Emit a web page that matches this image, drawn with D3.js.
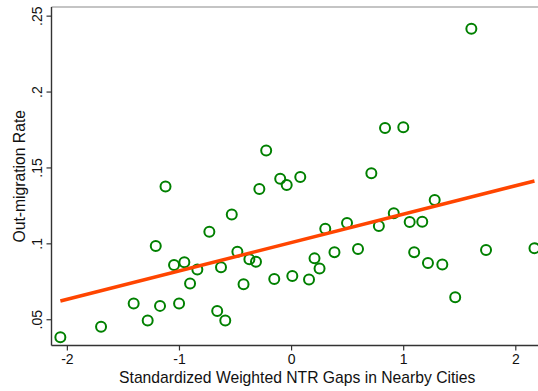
<!DOCTYPE html>
<html><head><meta charset="utf-8">
<script src="https://cdn.jsdelivr.net/npm/d3@7"></script>
<style>
html,body{margin:0;padding:0;background:#fff;}
svg{display:block;font-family:"Liberation Sans",Arial,sans-serif;}
</style></head>
<body>
<svg id="chart" width="538" height="391"></svg>
<script>
// Data
const gapValues = [-2.058,-1.695,-1.404,-1.279,-1.169,-0.999,-1.207,-1.120,-1.044,-0.952,
  -0.901,-0.836,-0.729,-0.659,-0.625,-0.587,-0.529,-0.479,-0.424,-0.372,
  -0.313,-0.283,-0.222,-0.150,-0.097,-0.039,0.011,0.082,0.160,0.209,
  0.254,0.305,0.387,0.499,0.597,0.716,0.783,0.838,0.916,1.001,
  1.058,1.098,1.170,1.221,1.281,1.349,1.464,1.608,1.739,2.171];
const outMigration = [0.0381,0.0451,0.0604,0.0492,0.0588,0.0604,0.0982,0.1374,0.0858,0.0875,
  0.0736,0.0828,0.1077,0.0555,0.0843,0.0492,0.1190,0.0945,0.0731,0.0895,
  0.0879,0.1358,0.1611,0.0765,0.1426,0.1385,0.0785,0.1437,0.0762,0.0901,
  0.0835,0.1096,0.0942,0.1134,0.0962,0.1462,0.1115,0.1760,0.1198,0.1765,
  0.1140,0.0942,0.1142,0.0871,0.1286,0.0860,0.0645,0.2414,0.0956,0.0968];
const fitX = [-2.058, 2.171];
const fitY = [0.0620, 0.1411];
const xTicks = [-2,-1,0,1,2];
const xTickLabels = ["-2","-1","0","1","2"];
const yTicks = [0.05,0.1,0.15,0.2,0.25];
const yTickLabels = [".05",".1",".15",".2",".25"];
const xTitle = "Standardized Weighted NTR Gaps in Nearby Cities";
const yTitle = "Out-migration Rate";

const svg = d3.select("#chart");
const L = 51.5, R = 538, T = 7, B = 345.5;
const x = d3.scaleLinear().domain([-2.137, 2.2025]).range([L, R]);
const y = d3.scaleLinear().domain([0.0327, 0.2557]).range([B, T]);

// top frame line
svg.append("line").attr("x1", L).attr("x2", R).attr("y1", T).attr("y2", T)
  .attr("stroke", "#8a8a8a").attr("stroke-width", 1.2);

// axes
const xAxis = d3.axisBottom(x).tickValues(xTicks).tickFormat((d,i)=>xTickLabels[i]).tickSize(5).tickSizeOuter(0);
const gx = svg.append("g").attr("transform", `translate(0,${B})`).call(xAxis);
gx.select(".domain").attr("stroke", "#333").attr("stroke-width", 1.4).attr("d", `M${L},0H${R}`);
gx.selectAll(".tick line").attr("stroke", "#333").attr("stroke-width", 1.2);
gx.selectAll(".tick text").attr("font-size", 14).attr("fill", "#111")
  .attr("font-family", "Liberation Sans, Arial, sans-serif").attr("y", 9).attr("dy", "0.71em");

const yAxis = d3.axisLeft(y).tickValues(yTicks).tickFormat((d,i)=>yTickLabels[i]).tickSize(5).tickSizeOuter(0);
const gy = svg.append("g").attr("transform", `translate(${L},0)`).call(yAxis);
gy.select(".domain").attr("stroke", "#333").attr("stroke-width", 1.4).attr("d", `M0,${B}V${T}`);
gy.selectAll(".tick line").attr("stroke", "#333").attr("stroke-width", 1.2);
gy.selectAll(".tick text").attr("font-size", 14).attr("fill", "#111")
  .attr("font-family", "Liberation Sans, Arial, sans-serif")
  .attr("x", null).attr("dy", null)
  .attr("text-anchor", "middle")
  .attr("transform", "translate(-9.5,0) rotate(-90)")
  .attr("y", 0);

// titles
svg.append("text").attr("x", (L + 503) / 2 + 20).attr("y", 383)
  .attr("text-anchor", "middle").attr("font-size", 15.7).attr("fill", "#111")
  .text(xTitle);
svg.append("text").attr("transform", `translate(25,${(T + B) / 2}) rotate(-90)`)
  .attr("text-anchor", "middle").attr("font-size", 15.7).attr("fill", "#111")
  .text(yTitle);

// points
const pts = gapValues.map((v, i) => ({x: v, y: outMigration[i]}));
svg.append("g").selectAll("circle").data(pts).join("circle")
  .attr("cx", d => x(d.x)).attr("cy", d => y(d.y)).attr("r", 5)
  .attr("fill", "none").attr("stroke", "#008000").attr("stroke-width", 2);

// fitted line
const line = d3.line().x(d => x(d[0])).y(d => y(d[1]));
svg.append("path").datum(fitX.map((v, i) => [v, fitY[i]]))
  .attr("d", line).attr("fill", "none").attr("stroke", "#ff4500").attr("stroke-width", 3.5);
</script>
</body></html>
